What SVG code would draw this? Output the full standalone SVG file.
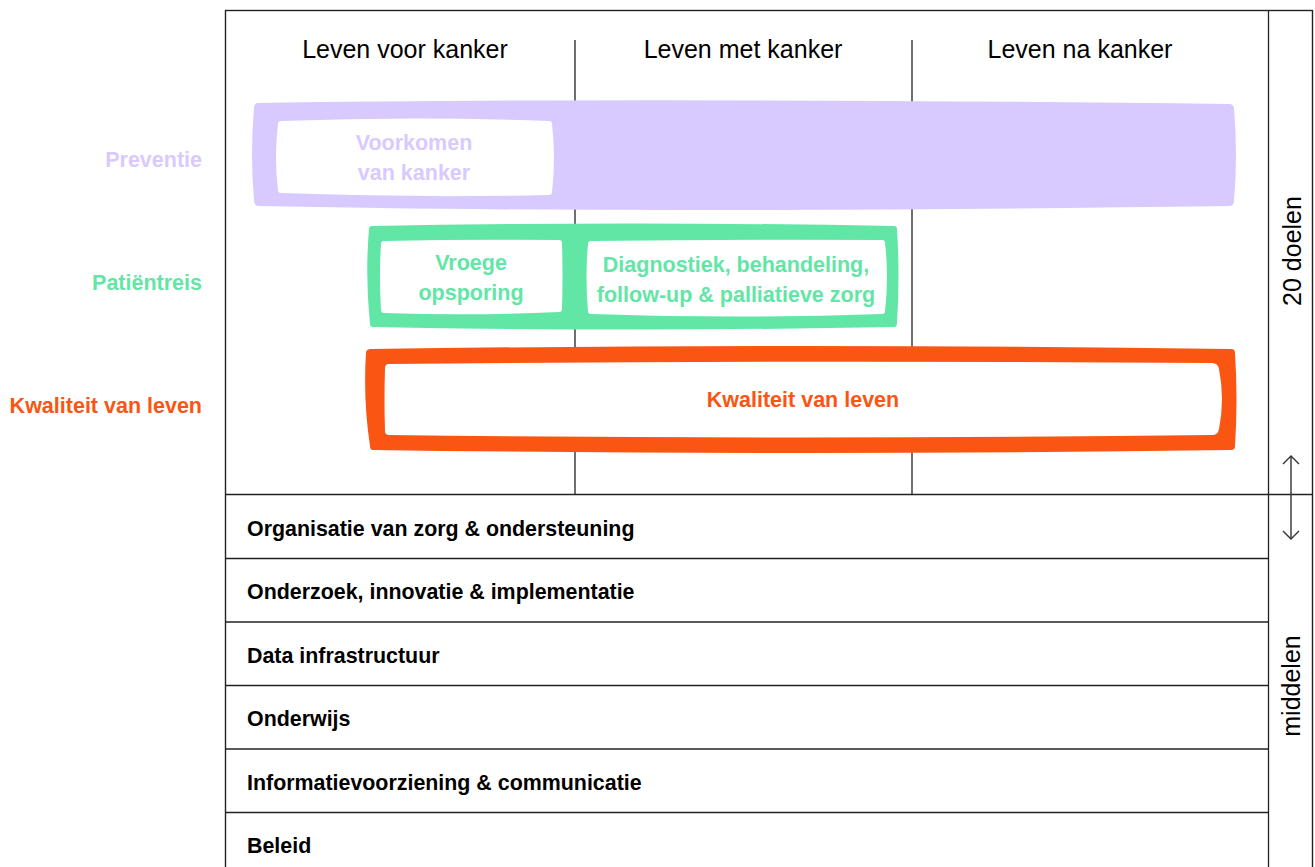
<svg xmlns="http://www.w3.org/2000/svg" width="1315" height="867" viewBox="0 0 1315 867">
<style>
.frame{fill:none;stroke:#222;stroke-width:1.4}
.line{stroke:#222;stroke-width:1.3;fill:none}
.hdr{font-family:"Liberation Sans",Arial,sans-serif;font-size:25px;fill:#000;text-anchor:middle}
.row{font-family:"Liberation Sans",Arial,sans-serif;font-size:21.4px;font-weight:bold;fill:#000}
.lbl{font-family:"Liberation Sans",Arial,sans-serif;font-size:21.5px;font-weight:bold;text-anchor:end}
.in{font-family:"Liberation Sans",Arial,sans-serif;font-size:21.5px;font-weight:bold;text-anchor:middle}
.side{font-family:"Liberation Sans",Arial,sans-serif;font-size:25px;fill:#000;text-anchor:middle}
.pur{fill:#D8CAFF}
.grn{fill:#62E6A6}
.org{fill:#FA5512}
.wht{fill:#fff}
</style>
<defs>
<marker id="chev" viewBox="0 0 20 20" refX="10" refY="10" markerWidth="20" markerHeight="20" markerUnits="userSpaceOnUse" orient="auto-start-reverse">
<path d="M2,2 L10,10 L2,18" fill="none" stroke="#333" stroke-width="1.4"/>
</marker>
</defs>
<rect width="1315" height="867" fill="#fff"/>

<g id="frame">
<rect class="frame" x="225.5" y="10.5" width="1087" height="870"/>
<line class="line" x1="1268.5" y1="10.5" x2="1268.5" y2="870"/>
<line class="line" x1="575" y1="40" x2="575" y2="494.5"/>
<line class="line" x1="912" y1="40" x2="912" y2="494.5"/>
<line class="line" x1="225.5" y1="494.5" x2="1312.5" y2="494.5"/>
<line class="line" x1="225.5" y1="558.5" x2="1268.5" y2="558.5"/>
<line class="line" x1="225.5" y1="622" x2="1268.5" y2="622"/>
<line class="line" x1="225.5" y1="685.5" x2="1268.5" y2="685.5"/>
<line class="line" x1="225.5" y1="749" x2="1268.5" y2="749"/>
<line class="line" x1="225.5" y1="812.5" x2="1268.5" y2="812.5"/>
</g>

<g id="headers">
<text class="hdr" x="405" y="58">Leven voor kanker</text>
<text class="hdr" x="743" y="58">Leven met kanker</text>
<text class="hdr" x="1080" y="58">Leven na kanker</text>
</g>

<g id="labels">
<text class="lbl" x="202" y="167" fill="#D8CAFF">Preventie</text>
<text class="lbl" x="202" y="290" fill="#62E6A6">Patiëntreis</text>
<text class="lbl" x="202" y="413" fill="#FA5512">Kwaliteit van leven</text>
</g>

<g id="preventie">
<path class="pur" d="M258,103 Q640,97 1229,104 Q1234,104 1234,109 Q1238,155 1234,201 Q1234,206 1229,206 Q640,214 259,206 Q254,206 254,200 Q250,155 254,108 Q254,103 258,103 Z"/>
<path class="wht" d="M281,121 Q415,116 549,121 Q552,121 552,124 Q556,158 552,192 Q552,195 549,195 Q415,198 281,193 Q278,193 278,190 Q274,157 278,124 Q278,121 281,121 Z"/>
<text class="in" x="414" y="150" fill="#D8CAFF">Voorkomen</text>
<text class="in" x="414" y="180" fill="#D8CAFF">van kanker</text>
</g>

<g id="patientreis">
<path class="grn" d="M372,226 Q630,221 894,226 Q897,226 897,229 Q900,276 897,323 Q897,327 894,327 Q630,332 373,327 Q370,327 370,324 Q365,276 369,229 Q369,226 372,226 Z"/>
<path class="wht" d="M384,241 Q470,239 559,240 Q562,240 562,243 Q563,276 562,309 Q562,312 559,312 Q470,316 384,313 Q381,313 381,310 Q379,277 381,244 Q381,241 384,241 Z"/>
<path class="wht" d="M591,241 Q737,239 882,240 Q885,240 885,243 Q889,277 885,311 Q885,314 882,314 Q737,319 591,314 Q588,314 588,311 Q585,277 588,244 Q588,241 591,241 Z"/>
<text class="in" x="471" y="270" fill="#62E6A6">Vroege</text>
<text class="in" x="471" y="300" fill="#62E6A6">opsporing</text>
<text class="in" x="736" y="272" fill="#62E6A6">Diagnostiek, behandeling,</text>
<text class="in" x="736" y="302" fill="#62E6A6">follow-up &amp; palliatieve zorg</text>
</g>

<g id="kwaliteit">
<path class="org" d="M371,349 Q800,343 1231,349 Q1235,349 1235,353 Q1238,400 1235,446 Q1235,450 1231,450 Q800,456 373,450 Q370,450 370,446 Q363,400 366,353 Q366,349 371,349 Z"/>
<path class="wht" d="M389,364 Q800,360 1212,363 Q1218,363 1219,369 Q1225,399 1219,429 Q1218,435 1212,435 Q800,440 389,435 Q385,435 385,431 Q384,400 385,368 Q385,364 389,364 Z"/>
<text class="in" x="803" y="407" fill="#FA5512">Kwaliteit van leven</text>
</g>

<g id="middelen-rows">
<text class="row" x="247" y="536">Organisatie van zorg &amp; ondersteuning</text>
<text class="row" x="247" y="599">Onderzoek, innovatie &amp; implementatie</text>
<text class="row" x="247" y="663">Data infrastructuur</text>
<text class="row" x="247" y="726">Onderwijs</text>
<text class="row" x="247" y="790">Informatievoorziening &amp; communicatie</text>
<text class="row" x="247" y="853">Beleid</text>
</g>

<g id="side">
<text class="side" transform="translate(1301,251) rotate(-90)">20 doelen</text>
<text class="side" transform="translate(1300,686) rotate(-90)">middelen</text>
</g>

<g id="connectors">
<line x1="1291" y1="456" x2="1291" y2="539" stroke="#333" stroke-width="1.4" marker-start="url(#chev)" marker-end="url(#chev)"/>
</g>
</svg>
